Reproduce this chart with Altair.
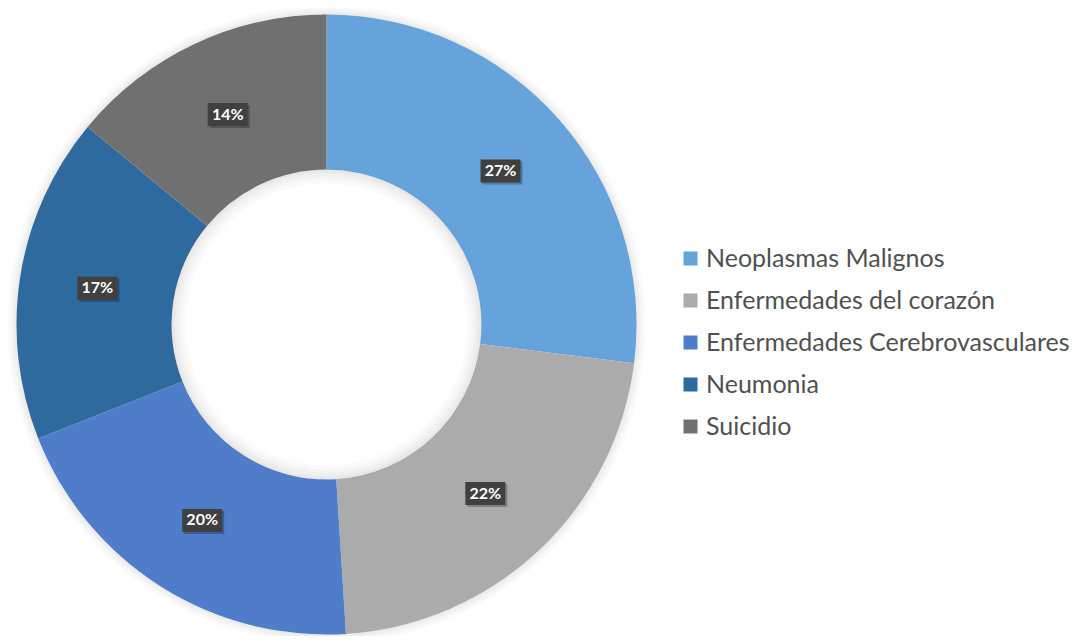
import altair as alt
import pandas as pd

categories = ["Neoplasmas Malignos", "Enfermedades del corazón",
              "Enfermedades Cerebrovasculares", "Neumonia", "Suicidio"]
values = [27, 22, 20, 17, 14]
labels = ["27%", "22%", "20%", "17%", "14%"]
colors = ["#66A3DA", "#ABABAB", "#4F7DCA", "#2E6A9E", "#707070"]

df = pd.DataFrame({"cat": categories, "val": values, "lab": labels,
                   "idx": list(range(len(categories)))})

W, H = 1066, 628
CX, CY = 318.5, 316.5
R_OUT, R_IN, R_LAB = 310, 155, 232
TWO_PI = 6.283185307179586

base = alt.Chart(df)

# soft shadow halo outside the ring
dummy = alt.Data(values=[{"a": 1}])
halo = [
    alt.Chart(dummy).mark_arc(innerRadius=R_OUT - 1, outerRadius=R_OUT + w, theta=0,
                              theta2=TWO_PI, color="#000000", opacity=0.018)
    .encode(x=alt.value(CX), y=alt.value(CY))
    for w in [2, 4, 6, 9]
]

arcs = base.mark_arc(outerRadius=R_OUT, innerRadius=R_IN).encode(
    theta=alt.Theta("val:Q", stack=True),
    order=alt.Order("idx:Q"),
    color=alt.Color(
        "cat:N", sort=categories,
        scale=alt.Scale(domain=categories, range=colors),
        legend=alt.Legend(title=None, orient="none", legendX=670, legendY=238,
                          symbolType="square", symbolSize=196, symbolStrokeWidth=0,
                          labelFontSize=25, labelFont="Lato", labelColor="#505050",
                          rowPadding=16, labelOffset=3, labelLimit=600),
    ),
    x=alt.value(CX), y=alt.value(CY),
)

# inner shadow of the hole
inner = [
    alt.Chart(dummy).mark_arc(innerRadius=R_IN - w, outerRadius=R_IN + 0.5, theta=0,
                              theta2=TWO_PI, color="#000000", opacity=0.02)
    .encode(x=alt.value(CX), y=alt.value(CY))
    for w in [2, 4, 7, 10, 14]
]

pos = base.transform_joinaggregate(total="sum(val)").transform_window(
    cum="sum(val)", sort=[alt.SortField("idx")], frame=[None, 0]
).transform_calculate(
    mid="(datum.cum - datum.val/2) / datum.total * 2 * PI",
    px=f"{CX} + {R_LAB} * sin(datum.mid)",
    py=f"{CY} - {R_LAB} * cos(datum.mid)",
)

box_path = "M-1,-0.575L1,-0.575L1,0.575L-1,0.575Z"
shadow = pos.mark_point(shape=box_path, filled=True, size=1600, color="#000000",
                        opacity=0.25, xOffset=2, yOffset=2).encode(
    x=alt.X("px:Q", scale=None, axis=None), y=alt.Y("py:Q", scale=None, axis=None))
boxes = pos.mark_point(shape=box_path, filled=True, size=1600, color="#404040",
                       opacity=1).encode(
    x=alt.X("px:Q", scale=None, axis=None), y=alt.Y("py:Q", scale=None, axis=None))
texts = pos.mark_text(font="Lato", fontWeight="bold", fontSize=16, color="#FFFFFF",
                      baseline="middle", align="center").encode(
    x=alt.X("px:Q", scale=None, axis=None), y=alt.Y("py:Q", scale=None, axis=None),
    text="lab:N")

chart = alt.layer(*halo, arcs, *inner, shadow, boxes, texts).properties(
    width=W, height=H, padding=0, autosize="none"
).configure_view(stroke=None)

chart.save("out.html", embed_options={"renderer": "svg", "actions": False})
